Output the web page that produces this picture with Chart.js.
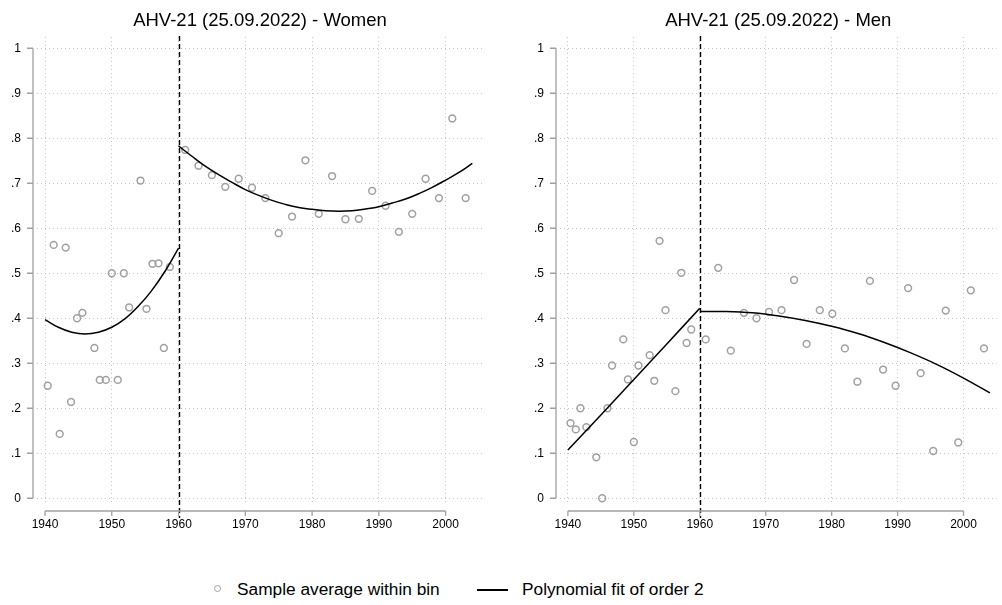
<!DOCTYPE html>
<html>
<head>
<meta charset="utf-8">
<script src="https://cdn.jsdelivr.net/npm/chart.js@4"></script>
<style>
  html, body { margin: 0; padding: 0; background: #fff; }
  body { width: 1002px; height: 605px; position: relative; overflow: hidden; font-family: 'Liberation Sans', Arial, sans-serif; }
  .cv { position: absolute; top: 0; }
  .leg-text { position: absolute; font-size: 17.3px; color: #000; line-height: 20px; white-space: nowrap; }
</style>
</head>
<body>
<canvas id="women" class="cv" style="left:0px;width:490px;height:545px" width="490" height="545"></canvas>
<canvas id="men" class="cv" style="left:523px;width:479px;height:545px" width="479" height="545"></canvas>

<div style="position:absolute;left:214px;top:585px;width:5px;height:5px;border:1.5px solid #a0a0a0;border-radius:50%"></div>
<div class="leg-text" style="left:237px;top:579px">Sample average within bin</div>
<div style="position:absolute;left:477px;top:589px;width:31px;height:1.5px;background:#000"></div>
<div class="leg-text" style="left:522px;top:579px">Polynomial fit of order 2</div>

<script>
// ---- tick labels ----
const xTickValues = [1940, 1950, 1960, 1970, 1980, 1990, 2000];
const xTickLabels = ['1940', '1950', '1960', '1970', '1980', '1990', '2000'];
const yTickValues = [0, 0.1, 0.2, 0.3, 0.4, 0.5, 0.6, 0.7, 0.8, 0.9, 1];
const yTickLabels = ['0', '.1', '.2', '.3', '.4', '.5', '.6', '.7', '.8', '.9', '1'];
const cutoffYear = 1960;

// ---- Women: bin averages ----
const womenPreYears = [1940.4, 1941.3, 1942.2, 1943.1, 1943.9, 1944.8, 1945.6, 1947.4, 1948.2, 1949.1, 1950.0, 1950.9, 1951.8, 1952.6, 1954.3, 1955.2, 1956.1, 1957.0, 1957.8, 1958.7];
const womenPreValues = [0.250, 0.563, 0.143, 0.557, 0.214, 0.400, 0.412, 0.334, 0.263, 0.263, 0.500, 0.263, 0.500, 0.424, 0.706, 0.421, 0.521, 0.522, 0.334, 0.514];
const womenPostYears = [1961, 1963, 1965, 1967, 1969, 1971, 1973, 1975, 1977, 1979, 1981, 1983, 1985, 1987, 1989, 1991, 1993, 1995, 1997, 1999, 2001, 2003];
const womenPostValues = [0.774, 0.739, 0.718, 0.692, 0.710, 0.690, 0.667, 0.589, 0.626, 0.751, 0.632, 0.716, 0.620, 0.621, 0.683, 0.650, 0.592, 0.632, 0.710, 0.667, 0.844, 0.667];
// ---- Women: fitted curves ----
const womenFitPreYears = [1940, 1942, 1944, 1946, 1948, 1950, 1952, 1954, 1956, 1958, 1960];
const womenFitPreValues = [0.397, 0.380, 0.369, 0.365, 0.369, 0.380, 0.399, 0.427, 0.462, 0.505, 0.556];
const womenFitPostYears = [1960, 1962, 1964, 1966, 1968, 1970, 1972, 1974, 1976, 1978, 1980, 1982, 1984, 1986, 1988, 1990, 1992, 1994, 1996, 1998, 2000, 2002, 2004];
const womenFitPostValues = [0.783, 0.760, 0.738, 0.719, 0.702, 0.686, 0.673, 0.662, 0.653, 0.646, 0.642, 0.639, 0.638, 0.639, 0.643, 0.648, 0.656, 0.665, 0.677, 0.691, 0.707, 0.724, 0.744];

// ---- Men: bin averages ----
const menPreYears = [1940.4, 1941.2, 1941.9, 1942.8, 1944.3, 1945.2, 1946.0, 1946.7, 1948.4, 1949.1, 1950.0, 1950.7, 1952.4, 1953.1, 1953.9, 1954.8, 1956.3, 1957.2, 1958.0, 1958.7];
const menPreValues = [0.167, 0.153, 0.200, 0.158, 0.091, 0.000, 0.200, 0.295, 0.353, 0.264, 0.125, 0.295, 0.318, 0.261, 0.572, 0.418, 0.238, 0.501, 0.345, 0.375];
const menPostYears = [1960.9, 1962.8, 1964.7, 1966.7, 1968.6, 1970.5, 1972.4, 1974.3, 1976.2, 1978.2, 1980.1, 1982.0, 1983.9, 1985.8, 1987.8, 1989.7, 1991.6, 1993.5, 1995.4, 1997.3, 1999.2, 2001.1, 2003.1];
const menPostValues = [0.353, 0.512, 0.328, 0.412, 0.400, 0.414, 0.418, 0.485, 0.343, 0.418, 0.410, 0.333, 0.259, 0.483, 0.286, 0.250, 0.467, 0.278, 0.105, 0.417, 0.124, 0.462, 0.333];
// ---- Men: fitted curves ----
const menFitPreYears = [1940, 1945, 1950, 1955, 1960];
const menFitPreValues = [0.107, 0.185, 0.264, 0.343, 0.422];
const menFitPostYears = [1960, 1964, 1968, 1972, 1976, 1980, 1984, 1988, 1992, 1996, 2000, 2004];
const menFitPostValues = [0.415, 0.415, 0.412, 0.405, 0.395, 0.382, 0.366, 0.346, 0.323, 0.297, 0.267, 0.234];

Chart.defaults.font.family = "'Liberation Sans', Arial, sans-serif";
Chart.defaults.color = '#000';

const pts = (xs, ys) => xs.map((x, i) => ({ x: x, y: ys[i] }));
const AXIS_GRAY = '#a0a0a0';
const MARK_GRAY = '#a0a0a0';

const stataAxes = {
  id: 'stataAxes',
  afterDatasetsDraw(chart) {
    const ctx = chart.ctx, ca = chart.chartArea;
    const xs = chart.scales.x, ys = chart.scales.y;
    ctx.save();
    // dashed cutoff line
    ctx.strokeStyle = '#000';
    ctx.lineWidth = 1.4;
    ctx.setLineDash([5, 3]);
    const cx = Math.round(xs.getPixelForValue(cutoffYear)) + 0.5;
    ctx.beginPath();
    ctx.moveTo(cx, ca.top - 1);
    ctx.lineTo(cx, ca.bottom + 13);
    ctx.stroke();
    ctx.setLineDash([]);
    // y axis
    ctx.strokeStyle = AXIS_GRAY;
    ctx.lineWidth = 1.3;
    const ax = ca.left - 4;
    ctx.beginPath();
    ctx.moveTo(ax, ys.getPixelForValue(yTickValues[yTickValues.length - 1]));
    ctx.lineTo(ax, ys.getPixelForValue(yTickValues[0]));
    yTickValues.forEach(v => {
      const py = ys.getPixelForValue(v);
      ctx.moveTo(ax - 6, py);
      ctx.lineTo(ax, py);
    });
    ctx.stroke();
    // x axis
    const ay = ca.bottom + 6;
    ctx.beginPath();
    ctx.moveTo(xs.getPixelForValue(xTickValues[0]), ay);
    ctx.lineTo(xs.getPixelForValue(xTickValues[xTickValues.length - 1]), ay);
    xTickValues.forEach(v => {
      const px = xs.getPixelForValue(v);
      ctx.moveTo(px, ay);
      ctx.lineTo(px, ay + 5);
    });
    ctx.stroke();
    ctx.restore();
  }
};

function makeChart(id, title, preX, preY, postX, postY, fPreX, fPreY, fPostX, fPostY, xMax, padRight) {
  const scatterStyle = {
    type: 'scatter',
    pointStyle: 'circle',
    pointRadius: 3.4,
    pointBorderWidth: 1.5,
    pointBorderColor: MARK_GRAY,
    pointBackgroundColor: 'rgba(255,255,255,0)',
    borderColor: MARK_GRAY,
    backgroundColor: 'rgba(255,255,255,0)',
    showLine: false,
    order: 2
  };
  const fitStyle = {
    type: 'line',
    borderColor: '#000',
    borderWidth: 1.5,
    pointRadius: 0,
    fill: false,
    tension: 0.4,
    order: 1
  };
  return new Chart(document.getElementById(id), {
    type: 'scatter',
    data: {
      datasets: [
        Object.assign({ label: 'Sample average within bin', data: pts(preX, preY) }, scatterStyle),
        Object.assign({ label: 'Sample average within bin', data: pts(postX, postY) }, scatterStyle),
        Object.assign({ label: 'Polynomial fit of order 2', data: pts(fPreX, fPreY) }, fitStyle),
        Object.assign({ label: 'Polynomial fit of order 2', data: pts(fPostX, fPostY) }, fitStyle)
      ]
    },
    options: {
      responsive: false,
      animation: false,
      layout: { padding: { left: 0, right: padRight, top: 0, bottom: 0 } },
      plugins: {
        legend: { display: false },
        tooltip: { enabled: false },
        title: {
          display: true,
          text: title,
          fullSize: false,
          color: '#000',
          font: { size: 18.5, weight: 'normal', lineHeight: 1.2 },
          padding: { top: 10, bottom: 4.8 }
        }
      },
      scales: {
        x: {
          type: 'linear',
          min: 1938.8,
          max: xMax,
          afterBuildTicks: s => { s.ticks = xTickValues.map(v => ({ value: v })); },
          afterFit: s => { s.height = 40; },
          ticks: {
            autoSkip: false,
            maxRotation: 0,
            padding: 12,
            font: { size: 12 },
            color: '#000',
            callback: (v, i) => xTickLabels[i]
          },
          grid: { color: '#c4c4c4', lineWidth: 1, drawTicks: false },
          border: { display: false, dash: [1, 3] }
        },
        y: {
          type: 'linear',
          min: -0.015,
          max: 1.025,
          afterBuildTicks: s => { s.ticks = yTickValues.map(v => ({ value: v })); },
          afterFit: s => { s.width = 37; },
          ticks: {
            autoSkip: false,
            padding: 16,
            font: { size: 12 },
            color: '#000',
            callback: (v, i) => yTickLabels[i]
          },
          grid: { color: '#c4c4c4', lineWidth: 1, drawTicks: false },
          border: { display: false, dash: [1, 3] }
        }
      }
    },
    plugins: [stataAxes]
  });
}

makeChart('women', 'AHV-21 (25.09.2022) - Women',
  womenPreYears, womenPreValues, womenPostYears, womenPostValues,
  womenFitPreYears, womenFitPreValues, womenFitPostYears, womenFitPostValues, 2005.6, 7);
makeChart('men', 'AHV-21 (25.09.2022) - Men',
  menPreYears, menPreValues, menPostYears, menPostValues,
  menFitPreYears, menFitPreValues, menFitPostYears, menFitPostValues, 2005.0, 0);
</script>
</body>
</html>
